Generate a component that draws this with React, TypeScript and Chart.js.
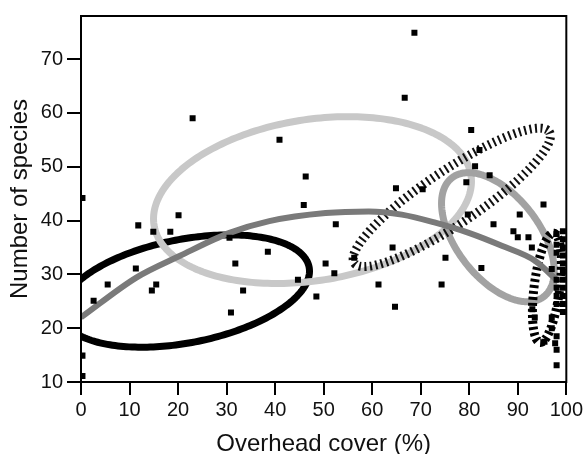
import React, { useEffect, useRef } from "react";
import { Chart, registerables } from "chart.js";

Chart.register(...registerables);

// ---- Data ----
const xTickValues = [0, 10, 20, 30, 40, 50, 60, 70, 80, 90, 100];
const yTickValues = [10, 20, 30, 40, 50, 60, 70];

const siteCover = [
  0.3, 0.3, 0.3, 2.6, 5.5, 11.3, 11.8, 14.6, 15.5, 14.9, 18.4, 20.1, 23.0,
  30.6, 30.9, 31.8, 33.4, 38.5, 40.9, 44.7, 45.9, 46.3, 48.5, 50.4, 52.2,
  52.5, 56.3, 61.3, 64.2, 64.7, 64.9, 66.7, 68.7, 70.4, 74.3, 75.1, 79.4,
  79.7, 80.4, 81.2, 82.1, 82.5, 84.2, 85.0, 89.1, 90.0, 90.4, 92.2, 92.9,
  95.3, 98.0, 93.0, 93.5, 95.5, 97.7,
  98.0, 98.0, 98.0, 98.0, 98.0, 98.0, 98.0, 98.0, 98.0,
  99.3, 99.3, 99.3, 99.3, 99.3, 99.3, 99.3, 99.3, 99.3, 99.3, 99.3,
  97.0, 97.0, 97.0,
];
const siteSpecies = [
  44.2, 14.9, 11.1, 25.1, 28.1, 31.1, 39.1, 27.0, 28.1, 37.9, 37.9, 41.0, 59.0,
  36.8, 22.9, 32.0, 27.0, 34.2, 55.0, 29.0, 42.9, 48.2, 25.9, 32.0, 30.2,
  39.3, 33.1, 28.1, 35.0, 24.0, 46.0, 62.8, 74.9, 45.8, 28.1, 33.1, 47.1,
  41.1, 56.8, 50.1, 53.1, 31.2, 48.4, 39.3, 38.0, 36.9, 41.1, 36.9, 35.0,
  43.0, 13.1, 23.5, 22.0, 17.5, 17.2,
  37.5, 35.5, 34.0, 29.0, 27.5, 26.0, 24.5, 18.5, 16.0,
  38.0, 36.5, 35.0, 33.5, 32.0, 30.5, 29.0, 27.5, 26.0, 24.5, 23.0,
  31.0, 22.0, 20.0,
];

const trendCover = [0, 11.4, 20.3, 30.6, 38.8, 50.4, 59.3, 66.1, 73.0, 79.9, 86.7, 93.6, 98.4];
const trendSpecies = [22.0, 29.4, 33.4, 37.7, 39.9, 41.4, 41.7, 41.1, 39.6, 37.7, 35.3, 32.5, 28.6];

// Ellipses: centre and two conjugate semi-axis vectors, in data units
const ellipseCentreX = [21.5, 47.7, 85.9, 76.4, 96.0];
const ellipseCentreY = [26.9, 43.8, 36.9, 44.3, 27.5];
const ellipseAxis1X = [25.5, 32.65, 9.44, 20.09, 1.41];
const ellipseAxis1Y = [4.45, 4.67, -11.05, 12.18, 10.14];
const ellipseAxis2X = [2.04, 2.62, -6.76, 3.1, 2.63];
const ellipseAxis2Y = [-9.44, -14.78, -4.66, -4.13, -0.29];

const ellipseLook = [
  { color: "#000000", width: 7, dash: [] as number[] },
  { color: "#c8c8c8", width: 7, dash: [] as number[] },
  { color: "#a2a2a2", width: 7, dash: [] as number[] },
  { color: "#111111", width: 9, dash: [2, 3.5] },
  { color: "#000000", width: 9, dash: [3, 3] },
];

const FONT = "'Liberation Sans', Arial, Helvetica, sans-serif";

const ellipsePlugin = {
  id: "ellipses",
  beforeDatasetsDraw(chart: any) {
    const { ctx, chartArea } = chart;
    const xs = chart.scales.x;
    const ys = chart.scales.y;
    ctx.save();
    ctx.beginPath();
    ctx.rect(chartArea.left, chartArea.top, chartArea.right - chartArea.left, chartArea.bottom - chartArea.top);
    ctx.clip();
    for (let i = 0; i < ellipseCentreX.length; i++) {
      const look = ellipseLook[i];
      ctx.beginPath();
      const n = 240;
      for (let k = 0; k <= n; k++) {
        const t = (k / n) * Math.PI * 2;
        const dx = ellipseCentreX[i] + ellipseAxis1X[i] * Math.cos(t) + ellipseAxis2X[i] * Math.sin(t);
        const dy = ellipseCentreY[i] + ellipseAxis1Y[i] * Math.cos(t) + ellipseAxis2Y[i] * Math.sin(t);
        const px = xs.getPixelForValue(dx);
        const py = ys.getPixelForValue(dy);
        if (k === 0) ctx.moveTo(px, py);
        else ctx.lineTo(px, py);
      }
      ctx.closePath();
      ctx.lineWidth = look.width;
      ctx.strokeStyle = look.color;
      ctx.setLineDash(look.dash);
      ctx.lineCap = "butt";
      ctx.lineJoin = "round";
      ctx.stroke();
    }
    ctx.restore();
  },
};

const framePlugin = {
  id: "frame",
  afterDraw(chart: any) {
    const { ctx, chartArea } = chart;
    ctx.save();
    ctx.strokeStyle = "#000";
    ctx.lineWidth = 2;
    ctx.strokeRect(chartArea.left, chartArea.top, chartArea.right - chartArea.left, chartArea.bottom - chartArea.top);
    ctx.restore();
  },
};

export default function App() {
  const ref = useRef<HTMLCanvasElement | null>(null);

  useEffect(() => {
    if (!ref.current) return;
    const points = siteCover.map((c, i) => ({ x: c, y: siteSpecies[i] }));
    const trend = trendCover.map((c, i) => ({ x: c, y: trendSpecies[i] }));
    const chart = new Chart(ref.current, {
      type: "scatter",
      data: {
        datasets: [
          {
            type: "scatter",
            label: "Sites",
            data: points,
            pointStyle: "rect",
            pointRadius: 4.25,
            backgroundColor: "#000",
            borderWidth: 0,
          },
          {
            type: "line",
            label: "Trend",
            data: trend,
            borderColor: "#7a7a7a",
            borderWidth: 6,
            pointRadius: 0,
            cubicInterpolationMode: "monotone",
            fill: false,
          } as any,
        ],
      },
      options: {
        animation: false,
        responsive: true,
        maintainAspectRatio: false,
        layout: { padding: { top: 14, right: 18, left: 0, bottom: 0 } },
        plugins: { legend: { display: false }, tooltip: { enabled: false } },
        scales: {
          x: {
            type: "linear",
            min: 0,
            max: 100,
            afterBuildTicks: (axis: any) => {
              axis.ticks = xTickValues.map((v) => ({ value: v }));
            },
            afterFit: (scale: any) => {
              scale.height = 72;
            },
            ticks: { stepSize: 10, color: "#111", font: { family: FONT, size: 20 }, padding: 3, maxRotation: 0 },
            grid: { drawOnChartArea: false, drawTicks: true, tickLength: 13, color: "#000", lineWidth: 2 },
            border: { display: true, color: "#000", width: 2 },
            title: {
              display: true,
              text: "Overhead cover (%)",
              color: "#111",
              font: { family: FONT, size: 24 },
              padding: { top: 0, bottom: -5 },
            },
          },
          y: {
            type: "linear",
            min: 10,
            max: 78,
            afterBuildTicks: (axis: any) => {
              axis.ticks = yTickValues.map((v) => ({ value: v }));
            },
            afterFit: (scale: any) => {
              scale.width = 81;
            },
            ticks: { stepSize: 10, color: "#111", font: { family: FONT, size: 20 }, padding: 4 },
            grid: { drawOnChartArea: false, drawTicks: true, tickLength: 14, color: "#000", lineWidth: 2 },
            border: { display: true, color: "#000", width: 2 },
            title: {
              display: true,
              text: "Number of species",
              color: "#111",
              font: { family: FONT, size: 24 },
              padding: { top: 6, bottom: 0 },
            },
          },
        },
      },
      plugins: [ellipsePlugin, framePlugin],
    });
    return () => chart.destroy();
  }, []);

  return (
    <div style={{ position: "fixed", left: 0, top: 0, width: 586, height: 454, background: "#fff" }}>
      <canvas ref={ref} />
    </div>
  );
}
